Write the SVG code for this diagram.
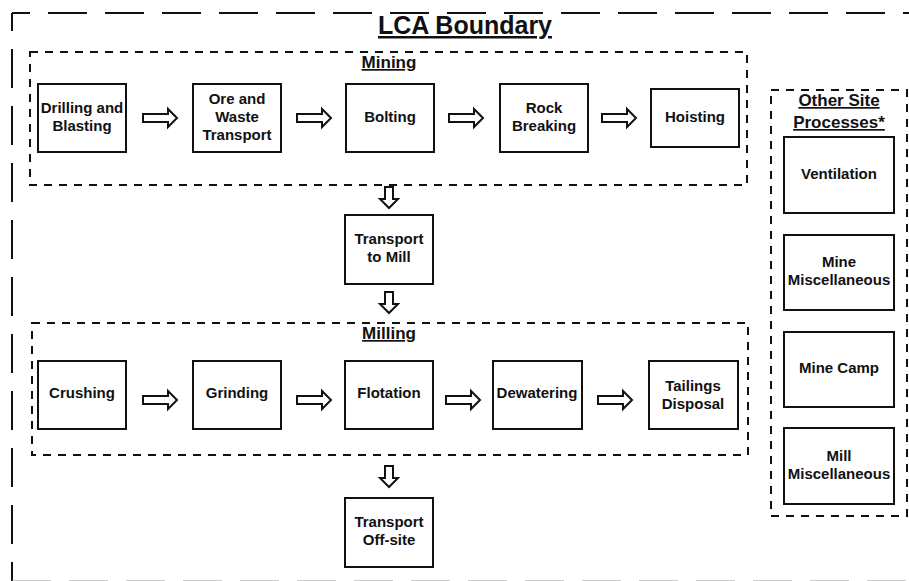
<svg xmlns="http://www.w3.org/2000/svg" xmlns:xlink="http://www.w3.org/1999/xlink" width="909" height="581" viewBox="0 0 909 581">
<style>
.box{fill:#fff;stroke:#111;stroke-width:2}
.grp{fill:none;stroke:#111;stroke-width:2;stroke-dasharray:8 7}
.bnd{fill:none;stroke:#111;stroke-width:2;stroke-dasharray:39 18;stroke-dashoffset:21}
.t{font-family:"Liberation Sans",Arial,sans-serif;font-weight:bold;font-size:15px;fill:#111;text-anchor:middle}
.h{font-family:"Liberation Sans",Arial,sans-serif;font-weight:bold;font-size:17px;fill:#111;text-anchor:middle;text-decoration:underline}
.arr{fill:#fff;stroke:#111;stroke-width:2;stroke-linejoin:miter}
</style>
<defs>
<path id="ra" class="arr" d="M0,-4 H25 V-9 L34,0 L25,9 V4 H0 Z"/>
<path id="da" class="arr" d="M-4,0 V12 H-9 L0,21 L9,12 H4 V0 Z"/>
</defs>
<rect width="909" height="581" fill="#fff"/>
<g id="boundary">
<line class="bnd" x1="12" y1="13" x2="909" y2="13"/>
<line class="bnd" x1="12" y1="13" x2="12" y2="581"/>
<line class="bnd" x1="12" y1="581.5" x2="909" y2="581.5" style="stroke-dashoffset:0;stroke:#999"/>
<text x="465" y="34" font-family="'Liberation Sans',Arial,sans-serif" font-weight="bold" font-size="25" text-anchor="middle" text-decoration="underline" fill="#111">LCA Boundary</text>
</g>
<g id="mining">
<rect class="grp" x="30" y="52" width="717" height="133"/>
<text class="h" x="389" y="68">Mining</text>
</g>
<g id="milling">
<rect class="grp" x="32" y="323" width="716" height="132"/>
<text class="h" x="389" y="339">Milling</text>
</g>
<g id="other">
<rect class="grp" x="771" y="90" width="136" height="426"/>
<text class="h" x="839" y="106">Other Site</text>
<text class="h" x="839" y="128">Processes*</text>
</g>
<g id="drilling"><rect class="box" x="38" y="84" width="88" height="68"/><text class="t" x="82" y="113">Drilling and</text><text class="t" x="82" y="131">Blasting</text></g>
<g id="ore"><rect class="box" x="193" y="84" width="88" height="68"/><text class="t" x="237" y="104">Ore and</text><text class="t" x="237" y="122">Waste</text><text class="t" x="237" y="140">Transport</text></g>
<g id="bolting"><rect class="box" x="346" y="84" width="88" height="68"/><text class="t" x="390" y="122">Bolting</text></g>
<g id="rock"><rect class="box" x="500" y="84" width="88" height="68"/><text class="t" x="544" y="113">Rock</text><text class="t" x="544" y="131">Breaking</text></g>
<g id="hoisting"><rect class="box" x="651" y="89" width="88" height="58"/><text class="t" x="695" y="122">Hoisting</text></g>
<g id="tmill"><rect class="box" x="345" y="215" width="88" height="69"/><text class="t" x="389" y="244">Transport</text><text class="t" x="389" y="262">to Mill</text></g>
<g id="crushing"><rect class="box" x="38" y="361" width="88" height="68"/><text class="t" x="82" y="398">Crushing</text></g>
<g id="grinding"><rect class="box" x="193" y="361" width="88" height="68"/><text class="t" x="237" y="398">Grinding</text></g>
<g id="flotation"><rect class="box" x="345" y="361" width="88" height="68"/><text class="t" x="389" y="398">Flotation</text></g>
<g id="dewatering"><rect class="box" x="493" y="361" width="89" height="68"/><text class="t" x="537" y="398">Dewatering</text></g>
<g id="tailings"><rect class="box" x="649" y="361" width="89" height="68"/><text class="t" x="693" y="391">Tailings</text><text class="t" x="693" y="409">Disposal</text></g>
<g id="toff"><rect class="box" x="345" y="498" width="88" height="69"/><text class="t" x="389" y="527">Transport</text><text class="t" x="389" y="545">Off-site</text></g>
<g id="ventilation"><rect class="box" x="784" y="137" width="110" height="76"/><text class="t" x="839" y="179">Ventilation</text></g>
<g id="minemisc"><rect class="box" x="784" y="235" width="110" height="75"/><text class="t" x="839" y="267">Mine</text><text class="t" x="839" y="285">Miscellaneous</text></g>
<g id="minecamp"><rect class="box" x="784" y="332" width="110" height="75"/><text class="t" x="839" y="373">Mine Camp</text></g>
<g id="millmisc"><rect class="box" x="784" y="428" width="110" height="76"/><text class="t" x="839" y="461">Mill</text><text class="t" x="839" y="479">Miscellaneous</text></g>
<g id="connectors">
<use xlink:href="#ra" x="143" y="118"/>
<use xlink:href="#ra" x="297" y="118"/>
<use xlink:href="#ra" x="449" y="118"/>
<use xlink:href="#ra" x="602" y="118"/>
<use xlink:href="#ra" x="143" y="400"/>
<use xlink:href="#ra" x="297" y="400"/>
<use xlink:href="#ra" x="446" y="400"/>
<use xlink:href="#ra" x="598" y="400"/>
<use xlink:href="#da" x="389" y="187"/>
<use xlink:href="#da" x="389" y="292"/>
<use xlink:href="#da" x="389" y="466"/>
</g>
</svg>
